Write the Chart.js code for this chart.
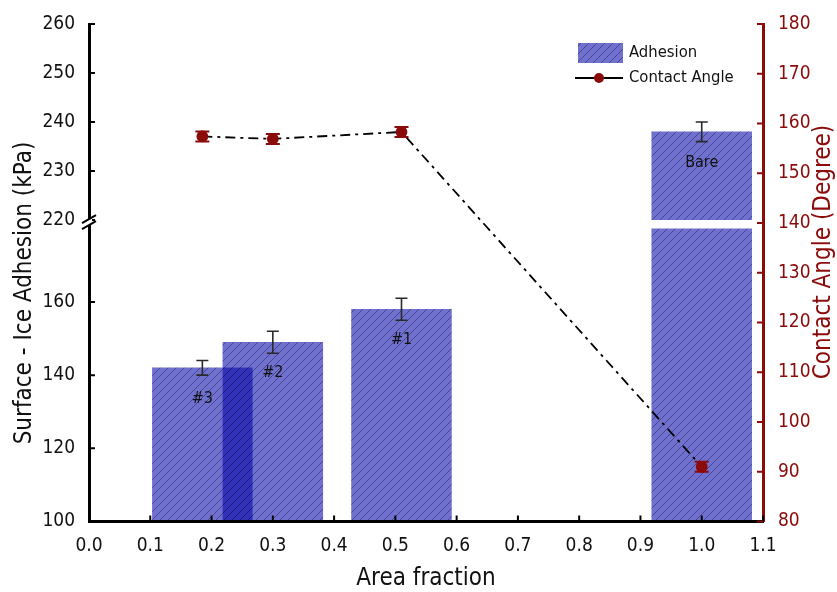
<!DOCTYPE html>
<html>
<head>
<meta charset="utf-8">
<script src="https://cdn.jsdelivr.net/npm/chart.js@4.4.1/dist/chart.umd.min.js"></script>
<style>
  html, body { margin: 0; padding: 0; background: #fff; }
  #wrap { width: 837px; height: 592px; position: relative; }
</style>
</head>
<body>
<div id="wrap"><canvas id="grafico"></canvas></div>
<script>
// dados
const samples = ['#3', '#2', '#1', 'Bare'];
const areaFraction = [0.185, 0.30, 0.51, 1.0];
const adhesion = [142, 149, 158, 238];
const adhesionErr = [2, 3, 3, 2];
const contactAngle = [157.4, 156.9, 158.3, 91.0];
const angleErr = [1, 1, 1, 1];

const xTicks = [0.0, 0.1, 0.2, 0.3, 0.4, 0.5, 0.6, 0.7, 0.8, 0.9, 1.0, 1.1];
const lowTicks = [100, 120, 140, 160];
const highTicks = [220, 230, 240, 250, 260];
const angleTicks = [80, 90, 100, 110, 120, 130, 140, 150, 160, 170, 180];

// quebra do eixo esquerdo
const lowMin = 100, lowMax = 182.4, lowClip = 180;
const highMin = 220, highMax = 260;
const barWidth = 0.163; // em unidades de x

const FONT = "'DejaVu Sans Condensed', 'Liberation Sans Narrow', 'Roboto', sans-serif";
const RED = '#8b0a0a';
const barFill = 'rgba(0, 0, 170, 0.56)';

function criarHachura() {
    const n = 8;
    const c = document.createElement('canvas');
    c.width = n; c.height = n;
    const g = c.getContext('2d');
    g.fillStyle = barFill;
    g.fillRect(0, 0, n, n);
    g.strokeStyle = 'rgba(25, 25, 80, 0.6)';
    g.lineWidth = 0.8;
    g.beginPath();
    g.moveTo(0, n); g.lineTo(n, 0);
    g.moveTo(-1, 1); g.lineTo(1, -1);
    g.moveTo(n - 1, n + 1); g.lineTo(n + 1, n - 1);
    g.stroke();
    return g.createPattern(c, 'repeat');
}
const hatch = criarHachura();

function fixarTicks(lista) {
    return s => { s.ticks = lista.map(v => ({ value: v })); };
}

function eixoY(lista, min, max, extra) {
    return Object.assign({
        type: 'linear',
        min: min,
        max: max,
        grid: { display: false },
        border: { color: '#000', width: 3, z: 1 },
        afterBuildTicks: fixarTicks(lista),
        ticks: { color: '#111', font: { family: FONT, size: 19 }, padding: 6 }
    }, extra);
}

const decoracao = {
    id: 'decoracao',
    afterDatasetsDraw(chart) {
        const { ctx, scales } = chart;
        const x = scales.x;
        ctx.save();

        // barras de erro da adesão + rótulos
        ctx.strokeStyle = '#2a2a2a';
        ctx.lineWidth = 1.6;
        ctx.fillStyle = '#111';
        ctx.font = '16px ' + FONT;
        ctx.textAlign = 'center';
        ctx.textBaseline = 'middle';
        areaFraction.forEach((v, i) => {
            const s = adhesion[i] >= highMin ? scales.yHigh : scales.yLow;
            const px = x.getPixelForValue(v);
            const t = s.getPixelForValue(adhesion[i] + adhesionErr[i]);
            const b = s.getPixelForValue(adhesion[i] - adhesionErr[i]);
            ctx.beginPath();
            ctx.moveTo(px, t); ctx.lineTo(px, b);
            ctx.moveTo(px - 6, t); ctx.lineTo(px + 6, t);
            ctx.moveTo(px - 6, b); ctx.lineTo(px + 6, b);
            ctx.stroke();
            ctx.fillText(samples[i], px, s.getPixelForValue(adhesion[i]) + 31);
        });

        // barras de erro do ângulo
        ctx.strokeStyle = RED;
        ctx.lineWidth = 2;
        const ya = scales.yAngle;
        areaFraction.forEach((v, i) => {
            const px = x.getPixelForValue(v);
            const t = ya.getPixelForValue(contactAngle[i] + angleErr[i]);
            const b = ya.getPixelForValue(contactAngle[i] - angleErr[i]);
            ctx.beginPath();
            ctx.moveTo(px, t); ctx.lineTo(px, b);
            ctx.moveTo(px - 7, t); ctx.lineTo(px + 7, t);
            ctx.moveTo(px - 7, b); ctx.lineTo(px + 7, b);
            ctx.stroke();
        });
        ctx.restore();
    },
    afterDraw(chart) {
        const { ctx, scales, chartArea } = chart;
        ctx.save();

        // ticks para dentro
        ctx.lineWidth = 2;
        ctx.strokeStyle = '#000';
        ctx.beginPath();
        scales.x.ticks.forEach(t => {
            const p = scales.x.getPixelForValue(t.value);
            ctx.moveTo(p, chartArea.bottom); ctx.lineTo(p, chartArea.bottom - 6);
        });
        ['yHigh', 'yLow'].forEach(id => {
            const s = scales[id];
            s.ticks.forEach(t => {
                const p = s.getPixelForValue(t.value);
                ctx.moveTo(chartArea.left, p); ctx.lineTo(chartArea.left + 6, p);
            });
        });
        ctx.stroke();
        ctx.strokeStyle = RED;
        ctx.beginPath();
        scales.yAngle.ticks.forEach(t => {
            const p = scales.yAngle.getPixelForValue(t.value);
            ctx.moveTo(chartArea.right, p); ctx.lineTo(chartArea.right - 6, p);
        });
        ctx.stroke();

        // marca de quebra no eixo esquerdo
        const ax = chartArea.left;
        const by = scales.yHigh.bottom + 2;
        ctx.fillStyle = '#fff';
        ctx.fillRect(ax - 3, by - 3, 6, 6);
        ctx.strokeStyle = '#000';
        ctx.lineWidth = 2;
        ctx.beginPath();
        ctx.moveTo(ax - 7, by + 1); ctx.lineTo(ax + 7, by - 7);
        ctx.moveTo(ax - 7, by + 7); ctx.lineTo(ax + 7, by - 1);
        ctx.stroke();

        // títulos dos eixos
        ctx.font = '24px ' + FONT;
        ctx.textAlign = 'center';
        ctx.textBaseline = 'middle';
        ctx.fillStyle = '#111';
        ctx.fillText('Area fraction', (chartArea.left + chartArea.right) / 2, 579);
        ctx.save();
        ctx.translate(25, 293);
        ctx.rotate(-Math.PI / 2);
        ctx.fillText('Surface - Ice Adhesion (kPa)', 0, 0);
        ctx.restore();
        ctx.save();
        ctx.fillStyle = RED;
        ctx.translate(824, 252);
        ctx.rotate(-Math.PI / 2);
        ctx.fillText('Contact Angle (Degree)', 0, 0);
        ctx.restore();

        // legenda
        ctx.fillStyle = hatch;
        ctx.fillRect(578, 43, 45, 20);
        ctx.strokeStyle = '#000';
        ctx.lineWidth = 2;
        ctx.beginPath();
        ctx.moveTo(575, 78); ctx.lineTo(623, 78);
        ctx.stroke();
        ctx.fillStyle = RED;
        ctx.beginPath();
        ctx.arc(599, 78, 5, 0, Math.PI * 2);
        ctx.fill();
        ctx.fillStyle = '#111';
        ctx.font = '16.5px ' + FONT;
        ctx.textAlign = 'left';
        ctx.fillText('Adhesion', 629, 53);
        ctx.fillText('Contact Angle', 629, 78);
        ctx.restore();
    }
};

function montarGrafico(espessura) {
    const ctx = document.getElementById('grafico').getContext('2d');
    return new Chart(ctx, {
        type: 'bar',
        data: {
            datasets: [{
                type: 'line',
                label: 'Contact Angle',
                data: areaFraction.map((v, i) => ({ x: v, y: contactAngle[i] })),
                yAxisID: 'yAngle',
                borderColor: '#000',
                borderWidth: 1.8,
                borderDash: [10, 5, 3, 5],
                pointRadius: 5,
                pointBackgroundColor: RED,
                pointBorderColor: RED,
                fill: false,
                tension: 0,
                order: 0
            }, {
                label: 'Adhesion',
                data: areaFraction.map((v, i) => ({ x: v, y: Math.min(adhesion[i], lowClip) })),
                yAxisID: 'yLow',
                backgroundColor: hatch,
                borderWidth: 0,
                grouped: false,
                barThickness: espessura,
                order: 1
            }, {
                label: 'Adhesion (topo)',
                data: areaFraction.map((v, i) => ({ x: v, y: adhesion[i] > highMin ? adhesion[i] : null })),
                yAxisID: 'yHigh',
                backgroundColor: hatch,
                borderWidth: 0,
                grouped: false,
                barThickness: espessura,
                order: 1
            }]
        },
        options: {
            responsive: true,
            maintainAspectRatio: false,
            animation: false,
            layout: { padding: { top: 24, left: 0, right: 0, bottom: 0 } },
            plugins: { legend: { display: false }, tooltip: { enabled: false } },
            scales: {
                x: {
                    type: 'linear',
                    min: 0,
                    max: 1.1,
                    offset: false,
                    grid: { display: false },
                    border: { color: '#000', width: 3, z: 1 },
                    afterBuildTicks: fixarTicks(xTicks),
                    ticks: {
                        callback: v => Number(v).toFixed(1),
                        color: '#111',
                        font: { family: FONT, size: 19 },
                        padding: 5,
                        maxRotation: 0,
                        autoSkip: false
                    },
                    afterFit: s => { s.height = 70.5; }
                },
                // no lado esquerdo a pilha é montada de trás pra frente
                yLow: eixoY(lowTicks, lowMin, lowMax, {
                    position: 'left', stack: 'adesao', stackWeight: 0.606,
                    afterFit: s => { s.width = 89; }
                }),
                yHigh: eixoY(highTicks, highMin, highMax, {
                    position: 'left', stack: 'adesao', stackWeight: 0.394,
                    afterFit: s => { s.width = 89; }
                }),
                yAngle: {
                    type: 'linear',
                    position: 'right',
                    min: 80,
                    max: 180,
                    grid: { display: false },
                    border: { color: RED, width: 3, z: 1 },
                    afterBuildTicks: fixarTicks(angleTicks),
                    ticks: { color: RED, font: { family: FONT, size: 19 }, padding: 7 },
                    afterFit: s => { s.width = 74; }
                }
            }
        },
        plugins: [decoracao]
    });
}

// primeira passada só para medir a largura da barra na escala x
let grafico = montarGrafico(90);
const sx = grafico.scales.x;
const largura = sx.getPixelForValue(barWidth) - sx.getPixelForValue(0);
grafico.destroy();
grafico = montarGrafico(largura);
</script>
</body>
</html>
